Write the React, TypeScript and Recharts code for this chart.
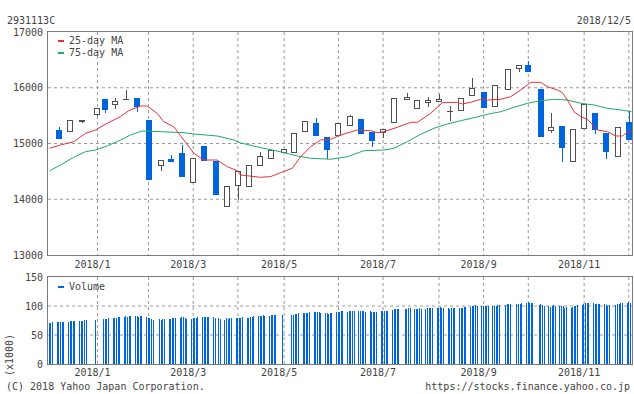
import React from 'react';
import { ComposedChart, Bar, Line, XAxis, YAxis, CartesianGrid, ReferenceArea } from 'recharts';

const FONT = '"DejaVu Sans Mono", monospace';
const TEXT = '#444444';
const BLUE = '#0064dc';
const UPC = '#505050';
const RED = '#e8303a';
const GREEN = '#23a867';
const GRID = '#9a9a9a';
const FRAME = '#7a7a7a';

// x values are calendar days counted from 2017/12/4 (Mon)
const gridDays = [31, 63, 91, 119, 148, 182, 210, 245, 273, 301, 336, 364];
const labelDays = [31, 91, 148, 210, 273, 336];
const labelTexts = ['2018/1', '2018/3', '2018/5', '2018/7', '2018/9', '2018/11'];

const priceTicks = [13000, 14000, 15000, 16000, 17000];
const volumeTicks = [0, 50, 100, 150];

// weekly candles (date = first trading day of the week)
const candleDays = [7, 14, 21, 31, 36, 42, 49, 56, 63, 71, 77, 84, 91, 98, 105, 112, 119, 126, 133, 140, 148, 154, 161, 168, 175, 182, 189, 196, 203, 210, 217, 225, 231, 238, 245, 252, 259, 266, 273, 280, 288, 295, 301, 309, 315, 322, 329, 336, 343, 350, 357, 364];
const opens = [15242, 15212, 15380, 15506, 15793, 15685, 15795, 15811, 15422, 14602, 14722, 14835, 14297, 14955, 14691, 13856, 14238, 14226, 14591, 14717, 14824, 14824, 15201, 15368, 15117, 15140, 15309, 15439, 15206, 15183, 15362, 15775, 15613, 15721, 15750, 15565, 15589, 15857, 15924, 15660, 15954, 16331, 16408, 15978, 15230, 15314, 14663, 15255, 15547, 15188, 14753, 15391];
const highs = [15301, 15416, 15430, 15640, 15800, 15811, 15960, 15815, 15422, 14710, 14794, 14968, 14735, 14955, 14691, 14232, 14507, 14609, 14853, 14878, 14896, 15183, 15398, 15463, 15117, 15368, 15517, 15439, 15206, 15255, 15811, 15900, 15780, 15829, 15888, 15673, 15811, 16180, 15924, 16044, 16336, 16408, 16480, 15978, 15553, 15314, 15255, 15709, 15547, 15188, 15300, 15583];
const lows = [15086, 15212, 15375, 15500, 15542, 15613, 15790, 15570, 14351, 14512, 14670, 14400, 14297, 14691, 14082, 13856, 13987, 14226, 14591, 14717, 14824, 14824, 15201, 15140, 14717, 15140, 15309, 15176, 14943, 15093, 15362, 15775, 15613, 15649, 15750, 15409, 15583, 15857, 15643, 15660, 15954, 16288, 16288, 15122, 15183, 14674, 14663, 15255, 15165, 14727, 14753, 15057];
const closes = [15086, 15416, 15422, 15631, 15601, 15768, 15800, 15660, 14351, 14704, 14674, 14405, 14735, 14691, 14082, 14232, 14507, 14609, 14770, 14878, 14896, 15183, 15398, 15140, 14889, 15368, 15493, 15176, 15050, 15255, 15811, 15829, 15780, 15780, 15793, 15575, 15811, 15990, 15643, 16044, 16336, 16408, 16288, 15122, 15291, 14925, 15255, 15709, 15242, 14853, 15291, 15057];

// moving averages
const ma25Days = [1.1, 7.8, 16.1, 23.5, 29.7, 37.1, 45.4, 50.6, 57.9, 62.1, 68.4, 72.6, 78.8, 85.1, 91.4, 97.6, 106, 112.3, 118.6, 120.7, 133.2, 139.5, 145.7, 153.1, 158.3, 164.6, 170.8, 177.1, 183.4, 193.8, 202.2, 206.4, 210.5, 218.9, 227.3, 231.5, 239.8, 247.1, 256.6, 259.7, 264.9, 271.2, 275.4, 283.7, 290, 296.3, 302.5, 308.8, 313, 319.3, 322.4, 325.5, 329.7, 333.9, 338.1, 344.4, 350.6, 355.8, 360, 362.1, 365.7];
const ma25Values = [14914, 14973, 15032, 15183, 15242, 15362, 15481, 15589, 15673, 15673, 15542, 15391, 15301, 15063, 14824, 14704, 14704, 14584, 14512, 14435, 14394, 14405, 14477, 14555, 14763, 14943, 15063, 15075, 15152, 15242, 15230, 15194, 15212, 15291, 15380, 15380, 15540, 15732, 15739, 15709, 15739, 15793, 15780, 15793, 15840, 15960, 16098, 16098, 16019, 15960, 15912, 15780, 15570, 15481, 15434, 15242, 15212, 15135, 15135, 15183, 15242];
const ma75Days = [1.1, 7.8, 16.1, 23.5, 29.7, 37.1, 45.4, 51.7, 59, 70.5, 85.1, 91.4, 106, 116.5, 120.7, 133.2, 145.7, 156.2, 164.6, 177.1, 187.6, 198, 210.5, 216.8, 225.2, 233.5, 241.9, 250.3, 258.6, 267, 275.4, 283.7, 292, 300.5, 308.8, 317.2, 325.5, 333.9, 342.2, 350.6, 359, 365.7];
const ma75Values = [14512, 14614, 14752, 14853, 14883, 14955, 15063, 15152, 15224, 15212, 15194, 15170, 15135, 15063, 15010, 14925, 14853, 14776, 14735, 14717, 14763, 14871, 14883, 14914, 15032, 15165, 15273, 15350, 15409, 15463, 15524, 15570, 15649, 15721, 15768, 15793, 15780, 15721, 15691, 15631, 15601, 15570];

// daily volume (x1000), one row per week Mon..Fri, null = no trading shown
const N = null;
const volumeWeeks: (number | null)[][] = [
  [N, N, 71, 71, 73],
  [73, 73, 73, 73, 73],
  [73, 74.7, 74.7, 74.7, 74.7],
  [75, 75, 75, 76, 76],
  [N, N, N, 76, N],
  [N, 78, 78, 78, 80],
  [80, 80, 80, 81.6, 81.6],
  [81.6, 83.3, 81.6, 83.3, 83.3],
  [83, 83, 81.6, 83, 83],
  [81.6, 80, 80, 78, 76],
  [N, 78, 76.4, 78, 78],
  [78, 78, 80, 80, 80],
  [80, 81.6, 81.6, 80, 78],
  [78, 80, 80, 80, 81.6],
  [81.6, 81.6, 81.6, 81.6, 81.6],
  [81.6, 80, N, 80, 78],
  [76.4, 80, 78, 80, 80],
  [80, 80, 80, 80, 81.6],
  [80, 80, 81.6, 81.6, 83.3],
  [83.3, 83.3, 83.3, 85, 83.3],
  [83.3, 85, 85, 85, 85],
  [N, 85, N, N, N],
  [85, 85, 86.7, 86.7, 88.5],
  [88.5, 88.5, 88.5, 88.5, 90.2],
  [90.2, 90.2, 90.2, 90.2, 88.5],
  [88.5, 88.5, 86.7, 88.5, 88.5],
  [90.2, 90.2, 90.2, 92, 92],
  [90.2, 92, 92, 92, 92],
  [92, 92, 92, 92, 90.2],
  [92, 90, 90, 90, 90],
  [92, 92, 92, 92, 92],
  [93.6, 95.3, 95.3, 95.3, 95.3],
  [N, 95.3, 95.3, 97, 97],
  [95.3, 95.3, 95.3, 97, 95.3],
  [95.3, 97, 97, 97, 97],
  [97, 97, 98.8, 97, 97],
  [97, 95.3, 97, 97, 97],
  [97, 97, 97, 98.8, 98.8],
  [98.8, 100.5, 100.5, 102.2, 100.5],
  [100.5, 100.5, 100.5, 100.5, 100.5],
  [100.5, 100.5, 100.5, 102.2, 102.2],
  [N, 102.2, 103.9, 103.9, 103.9],
  [N, 103.9, 103.9, 103.9, 105.7],
  [105.7, 107.4, 105.7, 105.7, 105.7],
  [N, 102.2, 103.9, 102.2, 100.5],
  [100.5, 98.8, 100.5, 102.2, 100.5],
  [100.5, 100.5, 100.5, 97.1, 98.8],
  [97.1, 98.8, 100.5, 100.5, 102.2],
  [102.2, 103.9, 105.7, 105.7, 105.7],
  [105.7, 103.9, 103.9, 103.9, 103.9],
  [103.9, 102.2, 100.5, 102.2, N],
  [102.2, 103.9, 103.9, 105.7, 105.7],
  [105.7, 107.4, 105.7, N, N],
];

const candles = candleDays.map((day, i) => ({
  day,
  open: opens[i],
  high: highs[i],
  low: lows[i],
  close: closes[i],
  range: [lows[i], highs[i]],
}));
const ma25 = ma25Days.map((day, i) => ({ day, v: ma25Values[i] }));
const ma75 = ma75Days.map((day, i) => ({ day, v: ma75Values[i] }));
const volumes: { day: number; vol: number }[] = [];
volumeWeeks.forEach((week, w) => {
  week.forEach((v, j) => {
    if (v != null) volumes.push({ day: w * 7 + j, vol: v });
  });
});

const fmtX = (d: number) => {
  const i = labelDays.indexOf(d);
  return i >= 0 ? labelTexts[i] : '';
};

function XTick(p: any) {
  return (
    <text x={p.x - 5} y={p.y} dy="0.71em" textAnchor="middle" fontFamily={FONT} fontSize={10} fill={TEXT}>
      {fmtX(p.payload.value)}
    </text>
  );
}

function YTick(p: any) {
  return (
    <text x={p.x} y={p.y} dy="0.355em" textAnchor="end" fontFamily={FONT} fontSize={10} fill={TEXT}>
      {p.payload.value}
    </text>
  );
}

function Frame(p: any) {
  if (p.x == null || p.y == null) return null;
  const x = Math.round(p.x) - 0.5;
  const y = Math.round(p.y) - 0.5;
  const w = Math.round(p.width) + 1;
  const h = Math.round(p.height) + 1;
  return <rect x={x} y={y} width={w} height={h} fill="none" stroke={FRAME} strokeWidth={1} />;
}

function Candle(props: any) {
  const { x, y, width, height } = props;
  const d = props.payload || props;
  if (x == null || y == null || d == null || d.open == null) return null;
  const top = Math.min(y, y + height);
  const bottom = Math.max(y, y + height);
  const span = d.high - d.low;
  const py = (v: number) => (span > 0 ? bottom - ((v - d.low) / span) * (bottom - top) : top);
  const left = Math.round(x);
  const w = Math.round(width);
  const cx = left + Math.floor(w / 2) + 0.5;
  const up = d.close >= d.open;
  const bTop = Math.round(py(Math.max(d.open, d.close)));
  const bBot = Math.round(py(Math.min(d.open, d.close)));
  const color = up ? UPC : BLUE;
  let body;
  if (bBot - bTop < 2) {
    body = <line x1={left} x2={left + w} y1={bTop + 0.5} y2={bTop + 0.5} stroke={color} strokeWidth={1} />;
  } else if (up) {
    body = <rect x={left + 0.5} y={bTop + 0.5} width={w - 1} height={bBot - bTop - 1} fill="#ffffff" stroke={UPC} strokeWidth={1} />;
  } else {
    body = <rect x={left} y={bTop} width={w} height={bBot - bTop} fill={BLUE} />;
  }
  return (
    <g>
      <line x1={cx} x2={cx} y1={Math.round(top)} y2={Math.round(bottom)} stroke={color} strokeWidth={1} />
      {body}
    </g>
  );
}

function VolBar(p: any) {
  if (p.x == null || p.height == null) return null;
  const left = Math.round(p.x + p.width / 2 - 2);
  const top = Math.round(p.y);
  const h = Math.round(p.y + p.height) - top;
  return <rect x={left} y={top} width={1} height={h} fill={BLUE} />;
}

const textBase: React.CSSProperties = {
  position: 'absolute',
  fontFamily: FONT,
  fontSize: 10,
  lineHeight: '10px',
  color: TEXT,
  whiteSpace: 'pre',
};

export default function App() {
  return (
    <div style={{ position: 'absolute', left: 0, top: 0, width: 634, height: 394, background: '#ffffff', overflow: 'hidden' }}>
      <div style={{ position: 'absolute', left: 0, top: 0 }}>
        <ComposedChart width={634} height={275} data={candles} margin={{ top: 32, right: 2, bottom: 0, left: 4 }}>
          <CartesianGrid stroke={GRID} strokeDasharray="3 3" horizontalValues={[14000, 15000, 16000]} verticalValues={gridDays} />
          <XAxis dataKey="day" type="number" domain={[0, 366]} allowDataOverflow ticks={labelDays} interval={0} axisLine={false} tickLine={false} tickSize={0} tickMargin={6} height={20} tick={<XTick />} />
          <XAxis xAxisId="ma" dataKey="day" type="number" domain={[0, 366]} allowDataOverflow hide />
          <YAxis type="number" domain={[13000, 17000]} ticks={priceTicks} interval={0} allowDataOverflow axisLine={false} tickLine={false} tickSize={0} tickMargin={5} width={44} tick={<YTick />} />
          <ReferenceArea x1={0} x2={366} y1={13000} y2={17000} ifOverflow="visible" shape={<Frame />} />
          <Line xAxisId="ma" data={ma75} dataKey="v" stroke={GREEN} strokeWidth={1} dot={false} type="linear" isAnimationActive={false} />
          <Line xAxisId="ma" data={ma25} dataKey="v" stroke={RED} strokeWidth={1} dot={false} type="linear" isAnimationActive={false} />
          <Bar dataKey="range" barSize={6} shape={<Candle />} isAnimationActive={false} />
        </ComposedChart>
      </div>
      <div style={{ position: 'absolute', left: 0, top: 260 }}>
        <ComposedChart width={634} height={125} data={volumes} margin={{ top: 17, right: 2, bottom: 0, left: 4 }}>
          <CartesianGrid stroke={GRID} strokeDasharray="3 3" horizontalValues={[50, 100]} verticalValues={gridDays} />
          <XAxis dataKey="day" type="number" domain={[0, 366]} allowDataOverflow ticks={labelDays} interval={0} axisLine={false} tickLine={false} tickSize={0} tickMargin={5} height={21} tick={<XTick />} />
          <YAxis type="number" domain={[0, 150]} ticks={volumeTicks} interval={0} allowDataOverflow axisLine={false} tickLine={false} tickSize={0} tickMargin={5} width={44} tick={<YTick />} />
          <ReferenceArea x1={0} x2={366} y1={0} y2={150} ifOverflow="visible" shape={<Frame />} />
          <Bar dataKey="vol" barSize={1} shape={<VolBar />} isAnimationActive={false} />
        </ComposedChart>
      </div>

      <div style={{ ...textBase, left: 7, top: 16 }}>2931113C</div>
      <div style={{ ...textBase, left: 0, width: 631, top: 16, textAlign: 'right' }}>2018/12/5</div>

      <div style={{ position: 'absolute', left: 58, top: 40, width: 6, height: 2, background: RED }} />
      <div style={{ ...textBase, left: 69, top: 36 }}>25-day MA</div>
      <div style={{ position: 'absolute', left: 58, top: 52, width: 6, height: 2, background: GREEN }} />
      <div style={{ ...textBase, left: 69, top: 48 }}>75-day MA</div>

      <div style={{ position: 'absolute', left: 58, top: 286, width: 6, height: 2, background: BLUE }} />
      <div style={{ ...textBase, left: 69, top: 282 }}>Volume</div>

      <div style={{ ...textBase, left: -20.5, top: 350, width: 60, textAlign: 'center', transform: 'rotate(-90deg)' }}>(x1000)</div>

      <div style={{ ...textBase, left: 6, top: 382 }}>(C) 2018 Yahoo Japan Corporation.</div>
      <div style={{ ...textBase, left: 0, width: 630, top: 382, textAlign: 'right' }}>https://stocks.finance.yahoo.co.jp</div>
    </div>
  );
}
